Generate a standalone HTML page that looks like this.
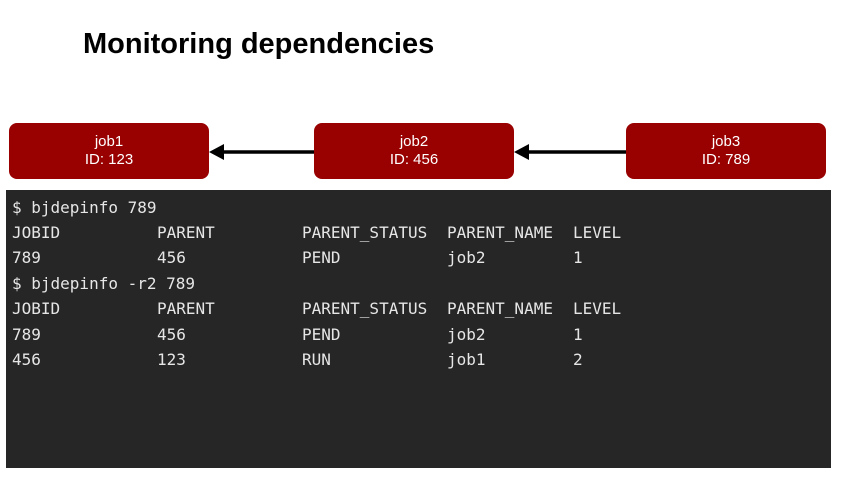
<!DOCTYPE html>
<html><head><style>
body{margin:0;width:842px;height:477px;background:#fff;position:relative;overflow:hidden;font-family:"Liberation Sans",sans-serif}
.t{position:absolute;left:83px;top:28px;font-size:29px;font-weight:bold;color:#000;white-space:nowrap}
.b{position:absolute;top:123px;width:200px;height:56px;background:#990000;border-radius:8px;color:#fff;font-size:15px;text-align:center;line-height:18px;box-sizing:border-box;padding-top:10px}
.p{position:absolute;left:6px;top:190px;width:825px;height:278px;background:#262626}
.m{position:absolute;font-family:"DejaVu Sans Mono","Liberation Mono",monospace;font-size:16px;color:#e6e6e6;white-space:pre;line-height:18px}
</style></head><body>
<div class="t">Monitoring dependencies</div>
<div class="b" style="left:9px">job1<br>ID: 123</div>
<div class="b" style="left:314px">job2<br>ID: 456</div>
<div class="b" style="left:626px">job3<br>ID: 789</div>
<svg style="position:absolute;left:0;top:0" width="842" height="477">
<line x1="314" y1="152" x2="220" y2="152" stroke="#000" stroke-width="3.5"/>
<polygon points="209,152 224,144 224,160" fill="#000"/>
<line x1="626" y1="152" x2="525" y2="152" stroke="#000" stroke-width="3.5"/>
<polygon points="514,152 529,144 529,160" fill="#000"/>
</svg>
<div class="p"></div>
<div class="m" style="left:12px;top:199px">$ bjdepinfo 789</div>
<div class="m" style="left:12px;top:224px">JOBID</div><div class="m" style="left:157px;top:224px">PARENT</div><div class="m" style="left:302px;top:224px">PARENT_STATUS</div><div class="m" style="left:447px;top:224px">PARENT_NAME</div><div class="m" style="left:573px;top:224px">LEVEL</div>
<div class="m" style="left:12px;top:249px">789</div><div class="m" style="left:157px;top:249px">456</div><div class="m" style="left:302px;top:249px">PEND</div><div class="m" style="left:447px;top:249px">job2</div><div class="m" style="left:573px;top:249px">1</div>
<div class="m" style="left:12px;top:275px">$ bjdepinfo -r2 789</div>
<div class="m" style="left:12px;top:300px">JOBID</div><div class="m" style="left:157px;top:300px">PARENT</div><div class="m" style="left:302px;top:300px">PARENT_STATUS</div><div class="m" style="left:447px;top:300px">PARENT_NAME</div><div class="m" style="left:573px;top:300px">LEVEL</div>
<div class="m" style="left:12px;top:326px">789</div><div class="m" style="left:157px;top:326px">456</div><div class="m" style="left:302px;top:326px">PEND</div><div class="m" style="left:447px;top:326px">job2</div><div class="m" style="left:573px;top:326px">1</div>
<div class="m" style="left:12px;top:351px">456</div><div class="m" style="left:157px;top:351px">123</div><div class="m" style="left:302px;top:351px">RUN</div><div class="m" style="left:447px;top:351px">job1</div><div class="m" style="left:573px;top:351px">2</div>
</body></html>
